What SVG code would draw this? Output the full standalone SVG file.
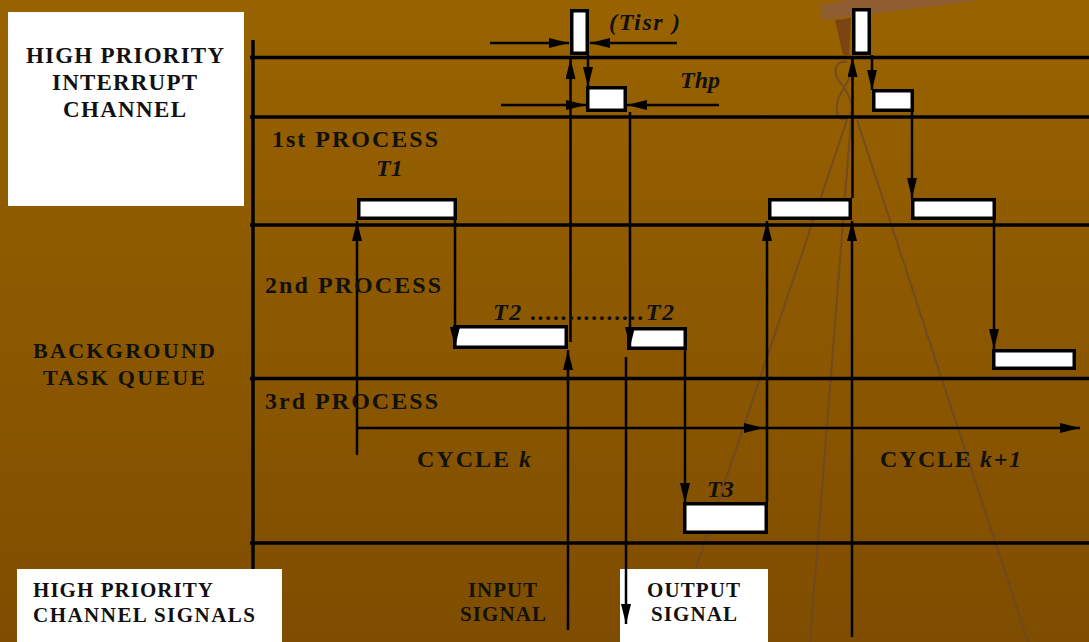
<svg xmlns="http://www.w3.org/2000/svg" width="1089" height="642" viewBox="0 0 1089 642">
<defs>
<linearGradient id="bg" x1="0" y1="0" x2="0" y2="1">
<stop offset="0" stop-color="#996300"/>
<stop offset="1" stop-color="#7f4d00"/>
</linearGradient>
<marker id="ah" viewBox="0 0 20 10" refX="20" refY="5" markerWidth="20" markerHeight="10" markerUnits="userSpaceOnUse" orient="auto">
<path d="M0,0 L20,5 L0,10 z" fill="#000"/>
</marker>
<style>
.t{font-family:"Liberation Serif","Times New Roman",serif;font-weight:bold;fill:#111}
.s21{font-size:21px}
.s22{font-size:22px}
.s23{font-size:23px}
.s24{font-size:24px}
.it{font-style:italic}
.grid{stroke:#000;stroke-width:3.5;fill:none}
.box{fill:#fff;stroke:#000;stroke-width:3.5}
.panel{fill:#fff}
.ca{stroke:#000;stroke-width:2.5;fill:none;marker-end:url(#ah)}
.deco{stroke:#6e4628;stroke-width:2;fill:none;opacity:0.8}
</style>
</defs>
<rect x="0" y="0" width="1089" height="642" fill="url(#bg)"/>
<g id="decoration">
<polygon points="820,5 850,0 982,0 822,20" fill="#8e5d32"/>
<polygon points="835,20 851,18 849,55 843,55" fill="#7a4512"/>
<path class="deco" d="M847,62 C835,60 832,72 840,82 C850,95 856,108 848,118 C840,124 834,112 838,100 C842,88 852,80 850,68" stroke-width="3"/>
<line class="deco" x1="847" y1="120" x2="671" y2="642"/>
<line class="deco" x1="851" y1="120" x2="810" y2="642"/>
<line class="deco" x1="857" y1="120" x2="1028" y2="642"/>
</g>
<g id="grid">
<line class="grid" x1="253" y1="40" x2="253" y2="570" stroke-width="4"/>
<line class="grid" x1="250" y1="57.5" x2="1089" y2="57.5"/>
<line class="grid" x1="250" y1="117" x2="1089" y2="117"/>
<line class="grid" x1="250" y1="225" x2="1089" y2="225"/>
<line class="grid" x1="250" y1="378.5" x2="1089" y2="378.5"/>
<line class="grid" x1="250" y1="543" x2="1089" y2="543"/>
</g>
<g id="panels">
<rect id="panel-hpic" class="panel" x="8" y="12" width="236" height="194"/>
<rect id="panel-hpcs" class="panel" x="17" y="569" width="265" height="73"/>
<rect id="panel-output" class="panel" x="620" y="569" width="148" height="73"/>
</g>
<g id="nodes">
<g id="tisr1"><rect class="box" x="571.75" y="10.75" width="15.5" height="42.5"/></g>
<g id="thp1"><rect class="box" x="587.75" y="87.75" width="37.5" height="22.5"/></g>
<g id="t1a"><rect class="box" x="358.75" y="199.75" width="96.5" height="18.5"/></g>
<g id="t2a"><rect class="box" x="454.75" y="326.75" width="111.5" height="20.5"/></g>
<g id="t2b"><rect class="box" x="628.75" y="328.75" width="56.5" height="19.5"/></g>
<g id="t3a"><rect class="box" x="684.75" y="503.75" width="81.5" height="28.5"/></g>
<g id="t1b"><rect class="box" x="769.75" y="199.75" width="80.5" height="18.5"/></g>
<g id="tisr2"><rect class="box" x="853.75" y="9.75" width="15.5" height="43.5"/></g>
<g id="thp2"><rect class="box" x="873.75" y="90.75" width="38.5" height="19.5"/></g>
<g id="t1c"><rect class="box" x="912.75" y="199.75" width="81.5" height="18.5"/></g>
<g id="t2c"><rect class="box" x="993.75" y="350.75" width="80.5" height="17.5"/></g>
</g>
<g id="connectors">
<line class="ca" x1="490" y1="43" x2="569" y2="43"/>
<line class="ca" x1="677" y1="43" x2="590" y2="43"/>
<line class="ca" x1="501" y1="105" x2="586" y2="105"/>
<line class="ca" x1="719" y1="105" x2="627" y2="105"/>
<line class="ca" x1="588" y1="55" x2="588" y2="87"/>
<line class="ca" x1="568" y1="630" x2="568" y2="350"/>
<line class="ca" x1="570.5" y1="342" x2="570.5" y2="59"/>
<line class="ca" x1="630" y1="112" x2="630" y2="347"/>
<line class="ca" x1="455" y1="220" x2="455" y2="347"/>
<line class="ca" x1="357" y1="455" x2="357" y2="221"/>
<line class="ca" x1="357" y1="428" x2="764" y2="428"/>
<line class="ca" x1="763" y1="428" x2="1080" y2="428"/>
<line class="ca" x1="626" y1="357" x2="626" y2="624"/>
<line class="ca" x1="685" y1="350" x2="685" y2="503"/>
<line class="ca" x1="767" y1="502" x2="767" y2="221"/>
<line class="ca" x1="852" y1="637" x2="852" y2="221"/>
<line class="ca" x1="852.5" y1="198" x2="852.5" y2="57"/>
<line class="ca" x1="872" y1="55" x2="872" y2="90"/>
<line class="ca" x1="912" y1="112" x2="912" y2="198"/>
<line class="ca" x1="994" y1="220" x2="994" y2="349"/>
</g>
<g id="labels">
<text class="t s23" x="26" y="63" textLength="198" lengthAdjust="spacing">HIGH PRIORITY</text>
<text class="t s23" x="52" y="90" textLength="145" lengthAdjust="spacing">INTERRUPT</text>
<text class="t s23" x="63" y="117" textLength="123" lengthAdjust="spacing">CHANNEL</text>
<text class="t s22" x="33" y="358" textLength="182" lengthAdjust="spacing">BACKGROUND</text>
<text class="t s22" x="43" y="385" textLength="162" lengthAdjust="spacing">TASK QUEUE</text>
<text class="t s24" x="272" y="147" textLength="166" lengthAdjust="spacing">1st PROCESS</text>
<text class="t s24" x="265" y="293" textLength="176" lengthAdjust="spacing">2nd PROCESS</text>
<text class="t s24" x="265" y="409" textLength="173" lengthAdjust="spacing">3rd PROCESS</text>
<text class="t s24" x="417" y="467" textLength="114" lengthAdjust="spacing">CYCLE <tspan class="it">k</tspan></text>
<text class="t s24" x="880" y="467" textLength="141" lengthAdjust="spacing">CYCLE <tspan class="it">k+1</tspan></text>
<text class="t s24 it" x="376" y="176">T1</text>
<text class="t s24 it" x="493" y="320" textLength="181" lengthAdjust="spacing">T2 ...............T2</text>
<text class="t s24 it" x="707" y="497">T3</text>
<text class="t s24 it" x="609" y="30" textLength="71" lengthAdjust="spacing">(Tisr )</text>
<text class="t s24 it" x="680" y="88">Thp</text>
<text class="t s21" x="33" y="597" textLength="180" lengthAdjust="spacing">HIGH PRIORITY</text>
<text class="t s21" x="33" y="622" textLength="222" lengthAdjust="spacing">CHANNEL SIGNALS</text>
<text class="t s21" x="468" y="597" textLength="69" lengthAdjust="spacing">INPUT</text>
<text class="t s21" x="460" y="621" textLength="86" lengthAdjust="spacing">SIGNAL</text>
<text class="t s21" x="647" y="597" textLength="93" lengthAdjust="spacing">OUTPUT</text>
<text class="t s21" x="651" y="621" textLength="86" lengthAdjust="spacing">SIGNAL</text>
</g>
</svg>
